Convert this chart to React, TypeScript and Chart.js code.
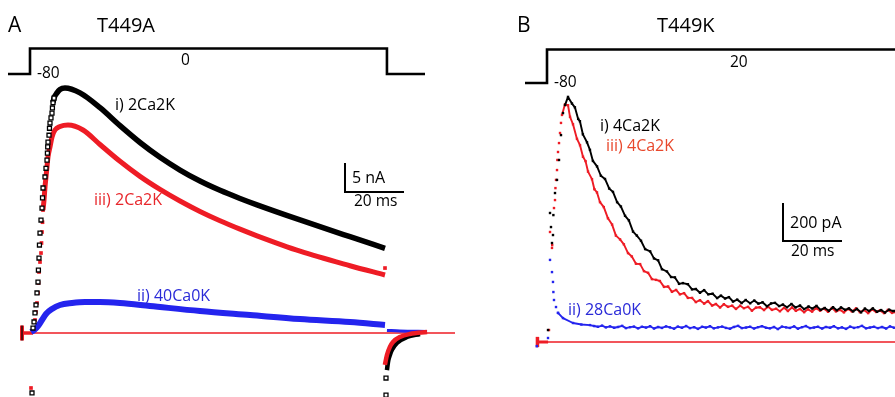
import React, { useEffect, useRef } from "react";
import { Chart, registerables } from "chart.js";
Chart.register(...registerables);

// ---------- Panel A (T449A): time in ms from step onset, current in nA ----------
const aBlackRiseT = [1.02, 1.36, 1.69, 2.03, 2.37, 2.71, 2.85, 3.05, 3.2, 3.39, 3.73, 4.07, 4.24, 4.41, 5.08, 5.42, 5.76, 5.9, 6.0, 6.1, 6.44, 6.6, 6.78, 7.12, 7.46, 7.6, 7.8, 8.14];
const aBlackRiseI = [0.86, 1.9, 3.45, 4.83, 6.9, 8.79, 10.86, 12.93, 15.17, 17.24, 19.48, 21.55, 23.3, 25.0, 26.9, 28.4, 29.8, 31.0, 32.1, 32.9, 34.1, 35.3, 36.2, 37.1, 37.9, 38.8, 39.7, 40.5];
const aBlackT = [7.8, 8.14, 9.15, 10.17, 11.86, 16.95, 23.73, 30.51, 37.29, 44.07, 50.85, 57.63, 64.41, 71.19, 76.95, 91.53, 108.47, 120.34];
const aBlackI = [39.7, 40.5, 41.4, 42.0, 42.24, 41.4, 38.85, 35.75, 32.85, 30.3, 28.1, 26.2, 24.6, 23.2, 22.1, 19.5, 16.6, 14.6];
const aRedRiseT = [1.69, 2.03, 2.37, 2.71, 2.88, 3.05, 3.39, 3.73, 3.9, 4.07, 4.24, 4.41];
const aRedRiseI = [2.24, 3.62, 5.17, 6.9, 8.62, 10.52, 12.24, 13.79, 15.52, 17.41, 19.1, 21.2];
const aRedT = [4.41, 4.75, 5.08, 5.42, 5.76, 6.1, 6.78, 7.46, 8.47, 10.17, 12.88, 17.97, 23.73, 30.51, 37.29, 44.07, 50.85, 57.63, 64.41, 71.19, 76.95, 91.53, 108.47, 120.34];
const aRedI = [21.2, 22.93, 25.17, 26.9, 28.62, 30.34, 32.07, 33.79, 35.0, 35.6, 35.86, 35.0, 32.5, 29.6, 27.0, 24.75, 22.75, 20.95, 19.35, 17.9, 16.75, 14.1, 11.6, 10.0];
const aBlueT = [0.34, 1.36, 2.71, 4.07, 5.42, 7.46, 10.17, 14.24, 18.64, 23.73, 30.5, 40.68, 57.63, 74.58, 91.53, 108.47, 120.34];
const aBlueI = [0.17, 0.5, 1.2, 2.24, 3.28, 4.14, 4.83, 5.17, 5.34, 5.34, 5.17, 4.66, 3.79, 3.1, 2.41, 1.9, 1.38];
const aBlueAfterT = [121.0, 125.4, 134.6];
const aBlueAfterI = [0.45, 0.34, 0.26];
const aBlackTailT = [121.0, 121.36, 122.0, 122.7, 124.4, 127.8, 132.2];
const aBlackTailI = [-6.4, -5.0, -3.8, -2.9, -1.7, -0.69, -0.17];
const aBlackTailDotT = [120.68, 120.68];
const aBlackTailDotI = [-10.7, -7.76];
const aRedTailT = [120.3, 121.0, 122.0, 123.05, 125.4, 128.8, 134.6];
const aRedTailI = [-5.5, -3.8, -2.4, -1.55, -0.69, -0.17, 0.17];
const aRedDotT = [120.34, 0.34];
const aRedDotI = [11.2, -9.48];
const aBlackDotT = [0.68];
const aBlackDotI = [-10.34];
const aBaseT = [-2.71, 144.07];
const aProtoT = [-7.46, 0, 0, 121.0, 121.0, 133.9];
const aProtoV = [-80, -80, 0, 0, -80, -80];
const aBarT = [106.78, 106.78, 126.78];
const aBarI = [29.31, 24.31, 24.31];

// ---------- Panel B (T449K): time in ms, current in pA ----------
const bBlackRiseT = [0.68, 1.36, 1.69, 2.03, 2.37, 2.5, 3.05, 3.73, 4.41, 5.08, 5.76];
const bBlackRiseI = [63, 679, 605, 521, 563, 668, 784, 853, 958, 1089, 1205];
const bBlackT = [6.44, 7.46, 8.8, 9.8, 10.9, 11.5, 12.5, 13.9, 14.9, 15.9, 17.3, 18.6, 20.0, 21.4, 22.7, 24.1, 25.4, 26.8, 28.1, 29.5, 30.8, 32.2, 33.6, 35.3, 36.6, 38.0, 39.3, 41.0, 42.4, 43.7, 45.1, 46.4, 48.1, 49.5, 50.8, 52.2, 53.6, 55.0, 56.5, 58.0, 59.3, 60.7, 62.0, 63.4, 64.8, 66.3, 67.7, 69.2, 70.6, 72.0, 73.4, 74.9, 76.3, 77.6, 79.0, 80.3, 81.7, 83.2, 84.6, 86.1, 87.5, 89.0, 90.3, 91.7, 93.1, 94.5, 95.9, 97.3, 98.6, 100.0, 101.4, 102.7, 104.1, 105.4, 106.8, 108.1, 109.5, 110.8, 112.2, 113.6, 114.9, 116.3, 117.6, 118.3];
const bBlackI = [1247, 1290, 1255, 1235, 1174, 1162, 1093, 1051, 1011, 953, 924, 875, 858, 808, 790, 736, 713, 664, 640, 581, 560, 533, 489, 477, 440, 430, 383, 371, 342, 340, 306, 310, 304, 277, 279, 259, 273, 251, 254, 231, 244, 229, 236, 213, 223, 205, 221, 204, 218, 202, 209, 188, 203, 206, 189, 197, 183, 200, 182, 192, 173, 187, 176, 190, 169, 179, 164, 183, 167, 182, 169, 177, 161, 174, 156, 176, 163, 177, 159, 168, 155, 170, 163, 163];
const bRedRiseT = [1.02, 1.36, 2.03, 2.1, 2.71, 3.05, 3.2, 3.39, 3.73, 3.85, 4.07, 4.41, 4.75, 5.08];
const bRedRiseI = [63, 579, 495, 510, 705, 747, 810, 853, 905, 958, 1000, 1047, 1100, 1153];
const bRedT = [5.42, 6.44, 7.46, 8.14, 9.15, 10.5, 11.53, 12.54, 13.4, 14.24, 15.59, 16.4, 17.29, 18.3, 19.6, 21.0, 22.4, 23.7, 25.1, 26.4, 27.8, 29.1, 30.5, 31.9, 33.2, 34.6, 35.9, 37.3, 38.6, 40.0, 41.4, 42.7, 44.1, 45.4, 46.8, 48.1, 49.5, 50.8, 52.2, 53.6, 54.9, 56.3, 57.6, 59.0, 60.3, 61.7, 63.1, 64.4, 65.8, 67.1, 68.5, 69.8, 71.2, 72.5, 73.9, 75.3, 76.6, 78.0, 79.3, 80.7, 82.0, 83.4, 84.7, 86.1, 87.5, 88.8, 90.2, 91.5, 92.9, 94.2, 95.6, 96.9, 98.3, 99.7, 101.0, 102.4, 103.7, 105.1, 106.4, 107.8, 109.2, 110.5, 111.9, 113.2, 114.6, 115.9, 117.3, 118.3];
const bRedI = [1195, 1251, 1246, 1185, 1146, 1069, 1036, 975, 952, 897, 857, 804, 787, 736, 710, 651, 618, 560, 540, 514, 468, 450, 412, 410, 373, 364, 331, 327, 321, 290, 292, 264, 274, 251, 257, 232, 232, 210, 220, 202, 215, 192, 200, 182, 199, 185, 191, 174, 191, 178, 185, 165, 181, 183, 168, 185, 169, 175, 162, 180, 163, 182, 164, 174, 157, 172, 160, 178, 165, 175, 159, 179, 161, 169, 156, 174, 161, 177, 157, 168, 152, 171, 158, 166, 152, 169, 153, 158];
const bBlueRiseT = [0.68, 1.36, 2.03, 2.37, 2.5, 2.71, 3.39, 4.07];
const bBlueRiseI = [21, 432, 368, 316, 263, 221, 184, 153];
const bBlueT = [4.07, 5.76, 9.15, 12.0, 14.9, 16.3, 17.6, 19.0, 20.3, 21.7, 23.1, 24.4, 25.8, 27.1, 28.5, 29.8, 31.2, 32.5, 33.9, 35.3, 36.6, 38.0, 39.3, 40.7, 42.0, 43.4, 44.7, 46.1, 47.5, 48.8, 50.2, 51.5, 52.9, 54.2, 55.6, 56.9, 58.3, 59.7, 61.0, 62.4, 63.7, 65.1, 66.4, 67.8, 69.2, 70.5, 71.9, 73.2, 74.6, 75.9, 77.3, 78.6, 80.0, 81.4, 82.7, 84.1, 85.4, 86.8, 88.1, 89.5, 90.8, 92.2, 93.6, 94.9, 96.3, 97.6, 99.0, 100.3, 101.7, 103.1, 104.4, 105.8, 107.1, 108.5, 109.8, 111.2, 112.5, 113.9, 115.3, 116.6, 118.0];
const bBlueI = [153, 126, 100, 92, 89, 84, 80, 86, 77, 82, 75, 79, 85, 73, 78, 81, 72, 80, 76, 83, 71, 79, 74, 82, 77, 70, 81, 75, 84, 73, 78, 69, 80, 76, 83, 72, 77, 81, 74, 70, 79, 85, 73, 76, 80, 71, 78, 83, 75, 72, 79, 68, 81, 77, 74, 82, 70, 78, 84, 73, 76, 80, 71, 79, 75, 83, 72, 77, 69, 81, 74, 78, 85, 72, 76, 80, 73, 79, 71, 82, 75];
const bBaseT = [-2.9, 118.4];
const bProtoT = [-7.12, 0.34, 0.34, 118.4];
const bProtoV = [-80, -80, 20, 20];
const bBarT = [80.34, 80.34, 100.34];
const bBarI = [731.6, 531.6, 531.6];

const RED = "#ee1c25";
const BLUE = "#2424ee";
const BLACK = "#000000";

const pts = (t: number[], v: number[]) => t.map((x, i) => ({ x, y: v[i] }));
const line = (data: any[], color: string, width: number, extra: any = {}) => ({
  data, borderColor: color, backgroundColor: color, borderWidth: width, pointRadius: 0,
  showLine: true, borderJoinStyle: "miter", borderCapStyle: "butt", ...extra,
});
const dots = (data: any[], color: string, r: number, extra: any = {}) => ({
  data, borderColor: color, backgroundColor: color, pointRadius: r, pointStyle: "rect",
  pointBorderWidth: 0, showLine: false, ...extra,
});
const noisy = (data: any[], color: string) => ({
  data, borderColor: color, backgroundColor: color, borderWidth: 1.9, pointRadius: 1.7,
  pointStyle: "rect", pointBorderWidth: 0, showLine: true, borderJoinStyle: "round",
});

const smooth = { cubicInterpolationMode: "monotone" };
const hollow = { pointBackgroundColor: "#fff", pointBorderColor: BLACK, pointBorderWidth: 1.3 };

function datasetsA() {
  return [
    dots(pts(aRedDotT, aRedDotI), RED, 2.6),
    dots(pts(aBlackDotT, aBlackDotI), BLACK, 2.8, hollow),
    line(pts(aRedTailT, aRedTailI), RED, 4.5, smooth),
    line(pts(aBlackTailT, aBlackTailI), BLACK, 4.5, smooth),
    dots(pts(aBlackTailDotT, aBlackTailDotI), BLACK, 2.8, hollow),
    dots(pts(aBlackRiseT, aBlackRiseI), BLACK, 2.8, hollow),
    dots(pts(aRedRiseT, aRedRiseI), RED, 2.6),
    line(pts(aBlackT, aBlackI), BLACK, 5.5, smooth),
    line(pts(aRedT, aRedI), RED, 5, smooth),
    line(pts(aBlueT, aBlueI), BLUE, 6, smooth),
    line(pts(aBlueAfterT, aBlueAfterI), BLUE, 3, smooth),
    line(pts([-2.71, -2.71], [1.3, -1.3]), BLACK, 1.2),
    line(pts([-2.71, -2.71], [1.3, -1.3]), RED, 4),
    line(pts([-2.71, 1.0], [0, 0]), RED, 3.5),
    line(pts(aBaseT, [0, 0]), RED, 1.6),
    line(pts(aProtoT, aProtoV), BLACK, 2.6, { yAxisID: "v" }),
    line(pts(aBarT, aBarI), BLACK, 2),
  ];
}

function datasetsB() {
  return [
    dots(pts(bBlackRiseT, bBlackRiseI), BLACK, 1.7),
    noisy(pts(bBlackT, bBlackI), BLACK),
    dots(pts(bRedRiseT, bRedRiseI), RED, 1.7),
    noisy(pts(bRedT, bRedI), RED),
    dots(pts(bBlueRiseT, bBlueRiseI), BLUE, 1.7),
    noisy(pts(bBlueT, bBlueI), BLUE),
    dots(pts([-3.1], [-22]), BLUE, 1.8),
    line(pts([-2.9, -2.9], [-27, 27]), RED, 3.5),
    line(pts([-2.9, 0.7], [0, 0]), RED, 3),
    line(pts(bBaseT, [0, 0]), RED, 1.6),
    line(pts(bProtoT, bProtoV), BLACK, 2.6, { yAxisID: "v" }),
    line(pts(bBarT, bBarI), BLACK, 2),
  ];
}

function opts(xmin: number, xmax: number, ymin: number, ymax: number, vmin: number, vmax: number): any {
  return {
    animation: false,
    responsive: false,
    maintainAspectRatio: false,
    devicePixelRatio: 1,
    layout: { padding: 0, autoPadding: false },
    plugins: { legend: { display: false }, tooltip: { enabled: false }, title: { display: false } },
    events: [],
    scales: {
      x: { type: "linear", min: xmin, max: xmax, display: false },
      y: { type: "linear", min: ymin, max: ymax, display: false },
      v: { type: "linear", min: vmin, max: vmax, display: false },
    },
  };
}

const Label = ({ x, b, fs, color = "#000", children }: any) => (
  <div
    style={{
      position: "absolute", left: x, top: b - 0.888 * fs, fontSize: fs, lineHeight: `${fs}px`,
      fontFamily: "'Open Sans', sans-serif", color, whiteSpace: "nowrap",
    }}
  >
    {children}
  </div>
);

export default function App() {
  const refA = useRef<HTMLCanvasElement>(null);
  const refB = useRef<HTMLCanvasElement>(null);
  useEffect(() => {
    const ca = new Chart(refA.current as HTMLCanvasElement, {
      type: "scatter",
      data: { datasets: datasetsA() as any },
      options: opts(-10.169, 147.458, -11.034, 57.414, -1093.3, 152.2),
    });
    const cb = new Chart(refB.current as HTMLCanvasElement, {
      type: "scatter",
      data: { datasets: datasetsB() as any },
      options: opts(-27.458, 118.305, -289.5, 1800, -1017.3, 167.8),
    });
    return () => {
      ca.destroy();
      cb.destroy();
    };
  }, []);
  return (
    <div style={{ position: "absolute", left: 0, top: 0, width: 895, height: 397, background: "#fff", overflow: "hidden" }}>
      <canvas ref={refA} width={465} height={397} style={{ position: "absolute", left: 0, top: 0, width: 465, height: 397 }} />
      <canvas ref={refB} width={430} height={397} style={{ position: "absolute", left: 465, top: 0, width: 430, height: 397 }} />
      <Label x={8} b={33} fs={21}>A</Label>
      <Label x={97} b={33} fs={20}>T449A</Label>
      <Label x={181} b={66} fs={15.5}>0</Label>
      <Label x={37} b={79} fs={15.5}>-80</Label>
      <Label x={115} b={110} fs={16}>i) 2Ca2K</Label>
      <Label x={94} b={205} fs={16} color="#e8262b">iii) 2Ca2K</Label>
      <Label x={137} b={301} fs={16} color="#2a2ad8">ii) 40Ca0K</Label>
      <Label x={352} b={183} fs={16}>5 nA</Label>
      <Label x={354} b={207} fs={15.5}>20 ms</Label>
      <Label x={517} b={33} fs={21}>B</Label>
      <Label x={657} b={33} fs={20}>T449K</Label>
      <Label x={730} b={68} fs={15.5}>20</Label>
      <Label x={554} b={88} fs={15.5}>-80</Label>
      <Label x={600} b={131} fs={16}>i) 4Ca2K</Label>
      <Label x={606} b={151} fs={16} color="#e8482c">iii) 4Ca2K</Label>
      <Label x={568} b={315} fs={16} color="#2a2ad8">ii) 28Ca0K</Label>
      <Label x={790} b={228} fs={16}>200 pA</Label>
      <Label x={791} b={257} fs={15.5}>20 ms</Label>
    </div>
  );
}
